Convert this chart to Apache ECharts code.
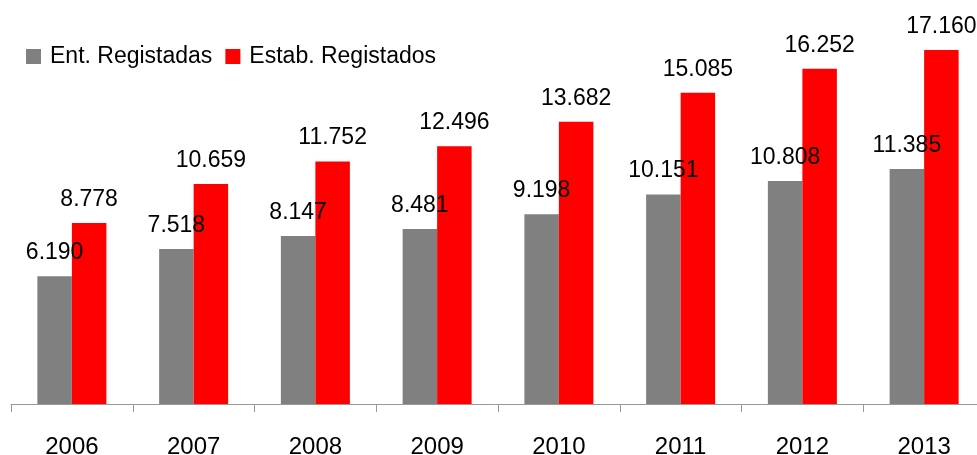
<!DOCTYPE html>
<html>
<head>
<meta charset="utf-8">
<script src="https://cdn.jsdelivr.net/npm/echarts@6/dist/echarts.min.js"></script>
<style>
html,body{margin:0;padding:0;background:#fff;overflow:hidden;}
#c{width:977px;height:455px;}
</style>
</head>
<body>
<div id="c"></div>
<script>
const categories = ['2006','2007','2008','2009','2010','2011','2012','2013'];
const entRegistadas = [6190, 7518, 8147, 8481, 9198, 10151, 10808, 11385];
const estabRegistados = [8778, 10659, 11752, 12496, 13682, 15085, 16252, 17160];
const seriesNames = ['Ent. Registadas', 'Estab. Registados'];

const fmt = v => {
  const s = String(v);
  return s.length > 3 ? s.slice(0, s.length - 3) + '.' + s.slice(-3) : s;
};

const font = 'Liberation Sans, Arial, sans-serif';
const chart = echarts.init(document.getElementById('c'), null, {renderer: 'canvas'});
const labelCfg = {
  show: true,
  position: 'top',
  distance: 12,
  color: '#000',
  fontFamily: font,
  fontSize: 23,
  formatter: p => fmt(p.value)
};
chart.setOption({
  animation: false,
  backgroundColor: '#fff',
  textStyle: {fontFamily: font},
  legend: {
    left: 26,
    top: 45,
    padding: 0,
    itemWidth: 15,
    itemHeight: 15,
    itemGap: 13,
    itemStyle: {borderWidth: 0},
    textStyle: {color: '#000', fontSize: 23, fontFamily: font, padding: [0, 0, 0, 4]},
    icon: 'rect',
    data: seriesNames
  },
  grid: {left: 11, top: 0, width: 974, height: 404, containLabel: false, outerBoundsMode: 'none'},
  xAxis: {
    type: 'category',
    data: categories,
    boundaryGap: true,
    axisLine: {lineStyle: {color: '#999', width: 1}},
    axisTick: {show: true, length: 8, lineStyle: {color: '#999'}},
    axisLabel: {color: '#000', fontSize: 24, fontFamily: font, margin: 31}
  },
  yAxis: {
    type: 'value',
    min: 0,
    max: 19580,
    show: false,
    splitLine: {show: false}
  },
  series: [
    {
      name: seriesNames[0],
      type: 'bar',
      data: entRegistadas,
      barWidth: 34.5,
      barGap: '0%',
      itemStyle: {color: '#808080'},
      label: labelCfg
    },
    {
      name: seriesNames[1],
      type: 'bar',
      data: estabRegistados,
      barWidth: 34.5,
      barGap: '0%',
      itemStyle: {color: '#FF0000'},
      label: labelCfg
    }
  ]
});
</script>
</body>
</html>
